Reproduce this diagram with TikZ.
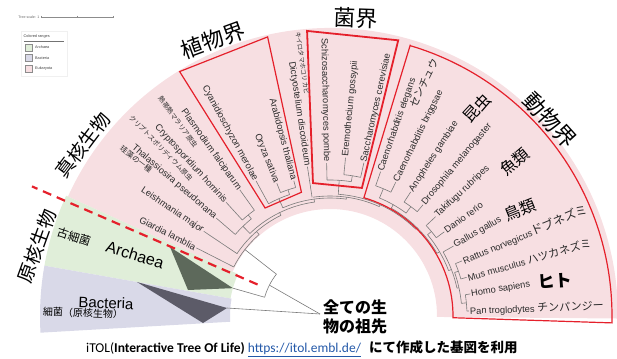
\documentclass[tikz,border=0pt]{standalone}
\usepackage{fontspec}
\setmainfont{Liberation Sans}
\newfontfamily\jpfont{Noto Sans CJK JP}
\newfontfamily\calfont{Carlito}
\usetikzlibrary{calc}
\definecolor{pinkr}{HTML}{F7DFE2}
\definecolor{greenr}{HTML}{E0EED9}
\definecolor{purpr}{HTML}{D9D9E8}
\definecolor{redbox}{HTML}{E5202B}
\definecolor{branchc}{HTML}{7A7A7A}
\definecolor{archtri}{HTML}{5D695B}
\definecolor{bacttri}{HTML}{5C5B68}
\definecolor{linkblue}{HTML}{2358A8}
\definecolor{leafc}{HTML}{2B2B2B}
\newcommand\fsz[1]{\fontsize{#1}{#1}\selectfont}
\tikzset{
  br/.style={draw=branchc, line width=0.6pt},
  lblR/.style={anchor=west, inner sep=0.8pt, text=leafc, font=\fsz{9.3}},
  lblL/.style={anchor=east, inner sep=0.8pt, text=leafc, font=\fsz{9.3}},
  jsm/.style={inner sep=0pt, text=leafc, font=\jpfont\fsz{6.8}},
  jgrp/.style={inner sep=0pt, text=black, font=\jpfont\fsz{16}},
  jking/.style={inner sep=0pt, text=black, font=\jpfont\fsz{22}},
  kbox/.style={draw=redbox, line width=1.2pt, line join=miter},
  legtxt/.style={inner sep=0pt, anchor=west, text=black!75, font=\fsz{3.8}},
}
\newcommand\leafR[5]{\draw[br] (-#1:#2) -- (-#1:#3) node[lblR, rotate=#1] (#4) {#5};}
\newcommand\leafL[5]{\draw[br] (-#1:#2) -- (-#1:#3) node[lblL, rotate=#1-180] (#4) {#5};}
\newcommand\inode[5]{\draw[br] (-#1:#2) -- (-#1:#3); \draw[br] (-#4:#3) arc[start angle=-#4, end angle=-#5, radius=#3];}
\begin{document}
\begin{tikzpicture}[x=1pt,y=-1pt]
\useasboundingbox (0,0) rectangle (617,358);
% ---- legend
\node[legtxt, anchor=east, text=black!60, font=\fsz{3.6}] (tscale) at (39.5,17) {Tree scale: 1};
\draw[black!45, line width=0.4pt] (41,17) -- (113,17);
\foreach \tx in {41,77,113} \draw[black!45, line width=0.4pt] (\tx,15.8) -- (\tx,18.2);
\draw[draw=black!6, fill=white] (21,31) rectangle (67,76);
\node[legtxt] (cranges) at (23.5,37) {Colored ranges};
\draw[black!55, line width=0.3pt] (24,41.5) -- (64,41.5);
\draw[black!45, fill=greenr, line width=0.3pt] (25,44) rectangle (32,51);
\draw[black!45, fill=purpr, line width=0.3pt] (25,54.5) rectangle (32,61.5);
\draw[black!45, fill=pinkr, line width=0.3pt] (25,65) rectangle (32,72);
\node[legtxt] (larch) at (35,47.5) {Archaea};
\node[legtxt] (lbact) at (35,58) {Bacteria};
\node[legtxt] (leuk) at (35,68.5) {Eukaryota};
% ---- fan
\begin{scope}[shift={(330,316)}]
\fill[pinkr] (-155.5:107) -- (-155.5:288) arc[start angle=-155.5, end angle=0.5, radius=288] -- (0.5:107) arc[start angle=0.5, end angle=-155.5, radius=107] -- cycle;
\fill[greenr] (-155.5:101) -- (-155.5:290) arc[start angle=-155.5, end angle=-170, radius=290] -- (-170:101) arc[start angle=-170, end angle=-155.5, radius=101] -- cycle;
\fill[purpr] (-170:100) -- (-170:290) arc[start angle=-170, end angle=-183.3, radius=290] -- (-183.3:100) arc[start angle=-183.3, end angle=-170, radius=100] -- cycle;
\coordinate (root) at (-10,-2);
\coordinate (bapex) at (-103,-8);
\coordinate (aapex) at (-164:101);
\fill[archtri] (aapex) -- (-160,-69) -- (-142,-26) -- cycle;
\fill[bacttri] (bapex) -- (-193,-34) -- (-127,7) -- cycle;
% tree
\draw[br] (root) -- (-153.01:68);
\draw[br] (-142.02:68) arc[start angle=-142.02, end angle=-164, radius=68];
\draw[br] (-164:68) -- (aapex);
\draw[br] (root) -- (bapex);
\inode{142.02}{68}{108}{153}{131.04}
\inode{131.04}{108}{112}{146.14}{115.94}
\inode{115.94}{112}{115}{134.135}{97.75}
\inode{134.135}{115}{125}{139.28}{128.99}
\inode{128.99}{125}{130}{132.42}{125.56}
\inode{97.75}{115}{118}{113.555}{81.94}
\inode{113.555}{118}{128}{118.7}{108.41}
\inode{108.41}{128}{133}{111.84}{104.98}
\inode{81.94}{118}{120}{98.12}{65.75}
\inode{65.75}{120}{122}{86.115}{45.38}
\inode{86.115}{122}{136}{91.26}{80.97}
\inode{80.97}{136}{142}{84.4}{77.54}
\inode{45.38}{122}{124}{60.39}{30.3775}
\inode{60.39}{124}{128}{67.25}{53.53}
\inode{67.25}{128}{138}{70.68}{63.82}
\inode{53.53}{128}{136}{56.96}{50.1}
\inode{30.3775}{124}{127}{39.81}{20.945}
\inode{39.81}{127}{132}{43.24}{36.38}
\inode{20.945}{127}{130}{29.52}{12.37}
\inode{12.37}{130}{132}{19.23}{5.51}
\inode{19.23}{132}{136}{22.66}{15.8}
\inode{5.51}{132}{137}{8.94}{2.08}
\leafL{153}{108}{150}{giar}{Giardia lamblia}
\leafL{146.14}{112}{152}{leis}{Leishmania major}
\leafL{139.28}{125}{150}{thal}{Thalassiosira pseudonana}
\leafL{132.42}{130}{154}{cryp}{Cryptosporidium hominis}
\leafL{125.56}{130}{155}{plas}{Plasmodium falciparum}
\leafL{118.7}{128}{154}{cyan}{Cyanidioschyzon merolae}
\leafL{111.84}{133}{143}{oryz}{Oryza sativa}
\leafL{104.98}{133}{140}{arab}{Arabidopsis thaliana}
\leafL{98.6}{120}{151}{dict}{Dictyostelium discoideum}
\leafL{91.26}{136}{153}{schi}{Schizosaccharomyces pombe}
\leafR{84.4}{142}{159}{erem}{Eremothecium gossypii}
\leafR{77.54}{142}{157}{sacc}{Saccharomyces cerevisiae}
\leafR{70.68}{138}{153}{cele}{Caenorhabditis elegans}
\leafR{63.82}{138}{149}{cbri}{Caenorhabditis briggsae}
\leafR{56.96}{136}{148}{anop}{Anopheles gambiae}
\leafR{50.1}{136}{145}{dros}{Drosophila melanogaster}
\leafR{43.24}{132}{145}{taki}{Takifugu rubripes}
\leafR{36.38}{132}{142}{dani}{Danio rerio}
\leafR{29.52}{130}{142}{gall}{Gallus gallus}
\leafR{22.66}{136}{143}{ratt}{Rattus norvegicus{\jpfont\fsz{12}ドブネズミ}}
\leafR{15.8}{136}{142}{musm}{Mus musculus {\jpfont\fsz{11}ハツカネズミ}}
\leafR{8.94}{137}{142}{homo}{Homo sapiens}
\leafR{2.08}{137}{139}{pant}{Pan troglodytes {\jpfont\fsz{11}チンパンジー}}
% kingdom boxes
\draw[kbox] (-103:127) -- (-102.6:286) -- (-121.6:287) -- (-121:126) -- cycle;
\draw[kbox, line width=1.8pt] (-76:132) -- (-76.1:284) -- (-94.6:286) -- (-97.3:134) -- cycle;
\draw[kbox] (-73.5:283) -- (-74:123) arc[start angle=-74, end angle=0.8, radius=123] -- (1.4:282) arc[start angle=1.4, end angle=-73.5, radius=282] -- cycle;
% dashed divider
\draw[redbox, line width=2.2pt, dash pattern=on 9pt off 6pt] (-156.5:79) -- (-156.5:325);
\end{scope}
% ---- small Japanese species names
\node[jsm, rotate=-54] (jplas) at (178,122) {熱帯熱マラリア原虫};
\node[jsm, rotate=-46] (jcryp) at (161,148) {クリプトスポリディウム原虫};
\node[jsm, rotate=-37, font=\jpfont\fsz{7.5}] (jthal) at (136,159) {珪藻の一種};
\node[jsm, rotate=-82, font=\jpfont\fsz{6.3}] (jdict) at (302.5,63) {キイロタマホコリカビ};
\node[jsm, rotate=64, font=\jpfont\fsz{10.5}] (jnema) at (424,83) {センチュウ};
\node[jgrp, rotate=47] (jins) at (477,108) {昆虫};
\node[jgrp, rotate=40] (jfish) at (515,162) {魚類};
\node[jgrp, rotate=22] (jbird) at (520,210) {鳥類};
\node[jgrp, rotate=4, font=\jpfont\bfseries\fsz{17}] (jhum) at (555,281) {ヒト};
% ---- kingdoms / domains
\node[jking, rotate=20] (kplant) at (213,40) {植物界};
\node[jking, rotate=-2] (kfung) at (356,18) {菌界};
\node[jking, rotate=-48] (kanim) at (550,120) {動物界};
\node[jking, rotate=53, font=\jpfont\fsz{19}] (keuk) at (83,145) {真核生物};
\node[jking, rotate=70, font=\jpfont\fsz{19}] (kpro) at (37,246) {原核生物};
\node[jking, rotate=-18, font=\jpfont\fsz{11.5}] (karc) at (74,237) {古細菌};
\node[inner sep=0pt, rotate=-17, font=\fsz{16}] (arch) at (135,255) {Archaea};
\node[inner sep=0pt, rotate=-2, font=\fsz{15}] (bact) at (106,303) {Bacteria};
\node[jking, rotate=-2, font=\jpfont\fsz{10}] (kbac) at (83,313) {細菌（原核生物）};
% ---- ancestor
\node[inner sep=0pt, align=center, font=\jpfont\bfseries\fontsize{16}{18.5}\selectfont] (anc) at (355,317) {全ての生\\物の祖先};
% ---- caption
\node[anchor=west, inner sep=0pt] (cap) at (86,349) {\calfont\fsz{13.5}iTOL(\textbf{Interactive Tree Of Life)} \textcolor{linkblue}{\underline{https://itol.embl.de/}}\hspace{8pt}{\jpfont\bfseries にて作成した基図を利用}};
\end{tikzpicture}
\end{document}
